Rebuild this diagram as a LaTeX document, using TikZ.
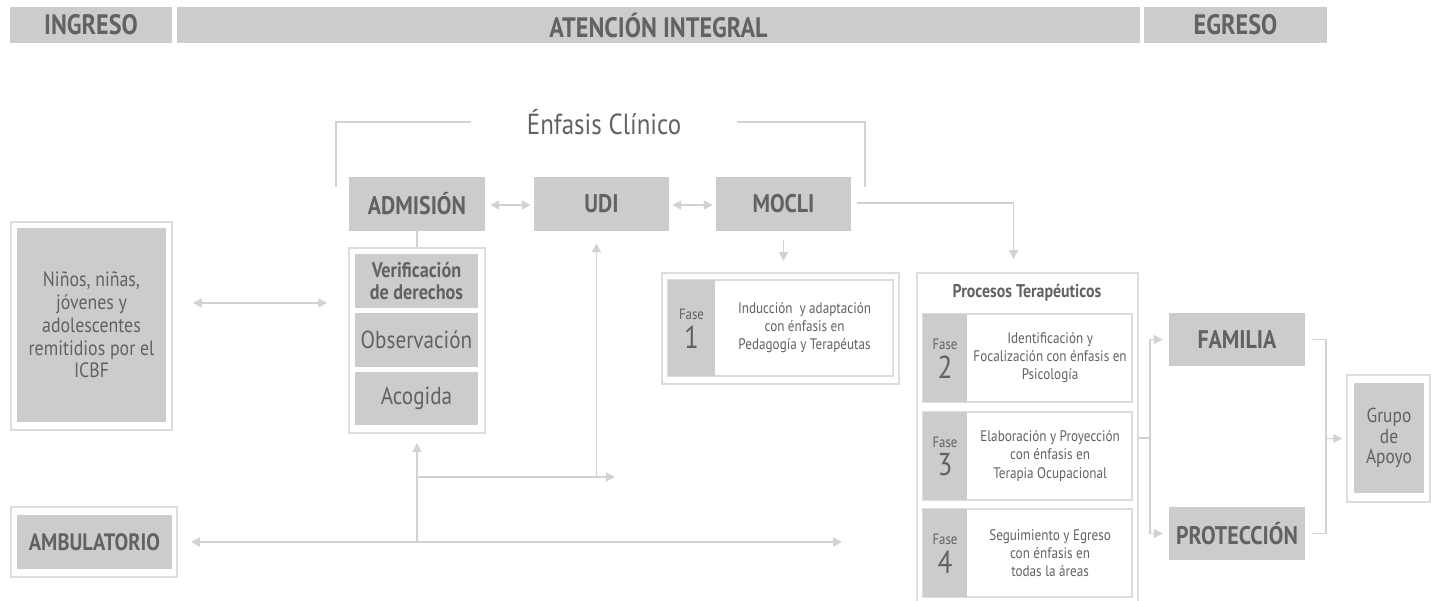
\documentclass[tikz,border=0pt]{standalone}
\usepackage{fontspec}
\setmainfont{PT Sans}[FakeStretch=0.86]
\usetikzlibrary{arrows.meta,calc,positioning}
\definecolor{boxgray}{HTML}{CCCCCC}
\definecolor{linegray}{HTML}{D2D2D2}
\definecolor{framegray}{HTML}{DCDCDC}
\definecolor{textgray}{HTML}{626262}
\newcommand{\fs}[2]{\fontsize{#1}{#2}\selectfont}

\tikzset{
  size/.style 2 args={minimum width=#1*0.02cm, minimum height=#2*0.02cm},
  headbar/.style={fill=boxgray, inner sep=0pt, text=textgray, font=\bfseries\fs{16}{18}},
  graybox/.style={fill=boxgray, inner sep=0pt, text=textgray, align=center},
  labelbox/.style={graybox, font=\bfseries\fs{14.5}{16}},
  framebox/.style={draw=framegray, line width=1.1pt, inner sep=0pt},
  fasebox/.style={draw=framegray, fill=white, line width=0.9pt, inner sep=0pt},
  fasetag/.style={graybox, font=\fs{8.5}{10}},
  fasenum/.style={text=textgray, inner sep=0pt, font=\fs{18}{18}},
  fasetext/.style={text=textgray, align=center, font=\fs{8.7}{10.3}},
  link/.style={draw=linegray, line width=1.1pt},
  arr/.style={link, -{Triangle[length=5pt,width=5pt]}},
  darr/.style={link, {Triangle[length=5pt,width=5pt]}-{Triangle[length=5pt,width=5pt]}},
}

\begin{document}
\begin{tikzpicture}[x=0.02cm,y=-0.02cm]
  \useasboundingbox (0,0) rectangle (1431,601);

  % Header bars
  \node[headbar, size={162}{36}] (ingreso) at (91,25) {INGRESO};
  \node[headbar, size={963}{36}] (atencion) at (658.5,25) {ATENCIÓN INTEGRAL};
  \node[headbar, size={183}{36}] (egreso) at (1235.5,25) {EGRESO};

  % Enfasis clinico
  \node[text=textgray, font=\fs{16.5}{18}] (enfasis) at (604,122) {Énfasis Clínico};
  \node[labelbox, size={136}{54}] (admision) at (417,204) {ADMISIÓN};
  \node[labelbox, size={135}{54}] (udi) at (601.5,204) {UDI};
  \node[labelbox, size={135}{54}] (mocli) at (783.5,204) {MOCLI};

  % Ingreso
  \node[framebox, size={161}{208}] (ninosframe) at (91.5,326) {};
  \node[graybox, size={149}{194}, font=\fs{11.8}{13}] (ninos) at (91.5,325)
    {Niños, niñas,\\jóvenes y\\adolescentes\\remitidios por el\\ICBF};
  \node[framebox, size={166}{70}] (ambu) at (94,542) {};
  \node[labelbox, size={155}{54}, font=\bfseries\fs{13.5}{15}] (ambulatorio) at (94.5,542) {AMBULATORIO};

  % Admision
  \node[framebox, size={136}{185}] (admgroup) at (417,340.5) {};
  \node[graybox, size={123}{54}, font=\bfseries\fs{12}{12.5}] (verif) at (416.5,281) {Verificación\\de derechos};
  \node[graybox, size={123}{54}, font=\fs{14}{15}] (observ) at (416.5,340) {Observación};
  \node[graybox, size={123}{53}, font=\fs{14}{15}] (acogida) at (416.5,398.5) {Acogida};

  % Fase 1
  \node[framebox, size={237}{111}] (fase1frame) at (780.5,328.5) {};
  \node[fasebox, size={225}{96}] (fase1) at (780.5,328) {};
  \node[fasetag, size={47}{96}] (tag1) at (691.5,328) {};
  \node[fasetag] (fase1label) at ($(tag1.center)+(0,-14)$) {Fase};
  \node[fasenum] (fase1num) at ($(tag1.center)+(0,9)$) {1};
  \node[fasetext] at ($(tag1.east)!0.5!(fase1.east)$) (text1)
    {Inducción\ \ y adaptación\\con énfasis en\\Pedagogía y Terapéutas};

  % Procesos terapeuticos
  \node[framebox, size={221}{330}] (procesos) at (1027.5,438) {};
  \node[text=textgray, font=\bfseries\fs{10.5}{12}] (procesostitle) at (1027,293) {Procesos Terapéuticos};
  \foreach \n/\yc/\txt in {%
      2/358/{Identificación y\\Focalización con énfasis en\\Psicología},
      3/456/{Elaboración y Proyección\\con énfasis en\\Terapia Ocupacional},
      4/553/{Seguimiento y Egreso\\con énfasis en\\todas la áreas}} {
    \node[fasebox, size={209}{88}] (fase\n) at (1027.5,\yc) {};
    \node[fasetag, size={44}{88}] (tag\n) at (945,\yc) {};
    \node[fasetag] (fase\n label) at ($(tag\n.center)+(0,-14)$) {Fase};
    \node[fasenum] (fase\n num) at ($(tag\n.center)+(0,9)$) {\n};
    \node[fasetext] at ($(tag\n.east)!0.5!(fase\n.east)$) (text\n) {\txt};
  }

  % Egreso
  \node[labelbox, size={136}{53}] (familia) at (1237,339.5) {FAMILIA};
  \node[labelbox, size={136}{53}] (proteccion) at (1237,533.5) {PROTECCIÓN};
  \node[framebox, size={83}{127}] (grupoframe) at (1388.5,438.5) {};
  \node[graybox, size={70}{110}, font=\fs{11.5}{11.5}] (grupo) at (1389,438) {Grupo\\de\\Apoyo};

  % Connectors
  \coordinate (row) at (0,303);
  \coordinate (ambuend) at (842,542);
  \coordinate (udiend) at (615,477);
  \draw[link] ($(enfasis.west)+(-50,0)$) -| ($(admision.north west)+(-13,10)$);
  \draw[link] ($(enfasis.east)+(50,0)$) -| ($(mocli.north east)+(14,10)$);
  \draw[darr] ($(admision.east)+(5,1)$) -- ($(udi.west)+(-3,1)$);
  \draw[darr] ($(udi.east)+(3,1)$) -- ($(mocli.west)+(-3,1)$);
  \draw[link] (admision.south) -- (admgroup.north);
  \draw[darr] ($(ninosframe.east |- row)+(20,0)$) -- ($(admgroup.west |- row)+(-21,0)$);
  \draw[arr] ($(mocli.south)+(0,9)$) -- ($(mocli.south |- fase1frame.north)+(0,-11)$);
  \draw[arr] ($(mocli.east)+(6,-1)$) -| ($(procesos.north)+(-14,-13)$);
  \draw[darr] ($(ambu.east)+(13,0)$) -- (ambuend);
  \draw[arr] (admgroup.south |- ambuend) -- ($(admgroup.south)+(0,9)$);
  \draw[arr] (admgroup.south |- udiend) -- (udiend);
  \draw[arr] ($(udi.south |- udiend)+(-5,0)$) -- ($(udi.south)+(-5,12)$);
  \draw[link] (procesos.east) -- ++(11,0);
  \draw[arr] ($(procesos.east)+(11,0)$) |- ($(familia.west)+(-6,0)$);
  \draw[arr] ($(procesos.east)+(11,0)$) |- ($(proteccion.west)+(-6,0)$);
  \draw[link] ($(familia.east)+(7,0)$) -| ($(proteccion.east)+(21,0)$) -- ($(proteccion.east)+(7,0)$);
  \draw[arr] ($(grupoframe.west)+(-21,0)$) -- ($(grupoframe.west)+(-4,0)$);
\end{tikzpicture}
\end{document}
